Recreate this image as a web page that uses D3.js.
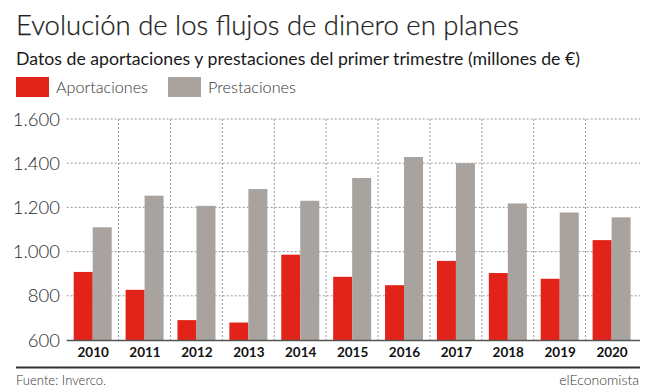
<!DOCTYPE html>
<html><head><meta charset="utf-8">
<script src="https://cdn.jsdelivr.net/npm/d3@7"></script>
<style>
html,body{margin:0;padding:0;background:#fff;}
svg{display:block;font-family:Lato,"Open Sans",sans-serif;}
</style></head>
<body><svg id="c" width="649" height="391"></svg>
<script>
const years = ["2010","2011","2012","2013","2014","2015","2016","2017","2018","2019","2020"];
const aportaciones = [908, 827, 690, 679, 986, 886, 848, 958, 903, 877, 1052];
const prestaciones = [1110, 1253, 1207, 1283, 1230, 1333, 1428, 1400, 1218, 1177, 1155];
const yTicks = [600, 800, 1000, 1200, 1400, 1600];
const seriesNames = ["Aportaciones", "Prestaciones"];
const colors = ["#e2231a", "#a8a39e"];

const svg = d3.select("#c");
const fmt = v => d3.format(",")(v).replace(/,/g, ".");

// Header
svg.append("text").attr("x", 16).attr("y", 35).attr("font-size", 28).attr("font-weight", 300)
  .attr("fill", "#222").attr("stroke", "#222").attr("stroke-width", 0.25)
  .attr("textLength", 503).attr("lengthAdjust", "spacingAndGlyphs")
  .text("Evolución de los flujos de dinero en planes");
svg.append("text").attr("x", 16).attr("y", 65).attr("font-size", 17).attr("font-weight", 400)
  .attr("fill", "#1a1a1a")
  .attr("textLength", 564).attr("lengthAdjust", "spacingAndGlyphs")
  .text("Datos de aportaciones y prestaciones del primer trimestre (millones de €)");

// Legend
const legX = [16, 168], legW = [92, 88];
seriesNames.forEach((n, i) => {
  svg.append("rect").attr("x", legX[i]).attr("y", 77).attr("width", 33).attr("height", 20).attr("fill", colors[i]);
  svg.append("text").attr("x", legX[i] + 40).attr("y", 93).attr("font-size", 16).attr("font-weight", 300)
    .attr("fill", "#333").attr("textLength", legW[i]).attr("lengthAdjust", "spacingAndGlyphs").text(n);
});

// Scales
const y = d3.scaleLinear().domain([600, 1600]).range([340, 119]);
const x = d3.scaleBand().domain(years).range([66.7, 637.5]).padding(0);
const xi = d3.scaleBand().domain(seriesNames).range([7, 45]).padding(0);

// Horizontal grid
svg.append("g").selectAll("line").data(yTicks.filter(t => t > 600)).join("line")
  .attr("x1", 66.7).attr("x2", 640).attr("y1", d => y(d)).attr("y2", d => y(d))
  .attr("stroke", "#9a9a9a").attr("stroke-width", 1).attr("stroke-dasharray", "2,2");
// Vertical grid at band boundaries
svg.append("g").selectAll("line").data(years.slice(1)).join("line")
  .attr("x1", d => x(d)).attr("x2", d => x(d)).attr("y1", y(1600)).attr("y2", 340)
  .attr("stroke", "#9a9a9a").attr("stroke-width", 1).attr("stroke-dasharray", "2,2");

// Bars
const g = svg.append("g");
years.forEach((yr, i) => {
  [aportaciones[i], prestaciones[i]].forEach((v, j) => {
    g.append("rect").attr("x", x(yr) + xi(seriesNames[j])).attr("width", xi.bandwidth())
      .attr("y", y(v)).attr("height", y(600) - y(v)).attr("fill", colors[j]);
  });
});

// Axis line
svg.append("line").attr("x1", 66.7).attr("x2", 640).attr("y1", 340.5).attr("y2", 340.5)
  .attr("stroke", "#555").attr("stroke-width", 1.5);

// Y labels
svg.append("g").selectAll("text").data(yTicks).join("text")
  .attr("x", 60).attr("y", d => y(d) + 6.5).attr("text-anchor", "end")
  .attr("font-size", 18.5).attr("font-weight", 300).attr("fill", "#2a2a2a").text(d => fmt(d));

// X labels
svg.append("g").selectAll("text").data(years).join("text")
  .attr("x", d => x(d) + x.bandwidth() / 2 + 0.5).attr("y", 357).attr("text-anchor", "middle")
  .attr("font-size", 13.5).attr("font-weight", 700).attr("fill", "#111").text(d => d);

// Footer
svg.append("line").attr("x1", 16).attr("x2", 640).attr("y1", 367.5).attr("y2", 367.5)
  .attr("stroke", "#333").attr("stroke-width", 2);
svg.append("text").attr("x", 16).attr("y", 384.5).attr("font-size", 14).attr("font-weight", 300)
  .attr("fill", "#333").attr("textLength", 90).attr("lengthAdjust", "spacingAndGlyphs").text("Fuente: Inverco.");
svg.append("text").attr("x", 639).attr("y", 384.5).attr("text-anchor", "end").attr("font-size", 14).attr("font-weight", 300)
  .attr("fill", "#333").text("elEconomista");
</script></body></html>
